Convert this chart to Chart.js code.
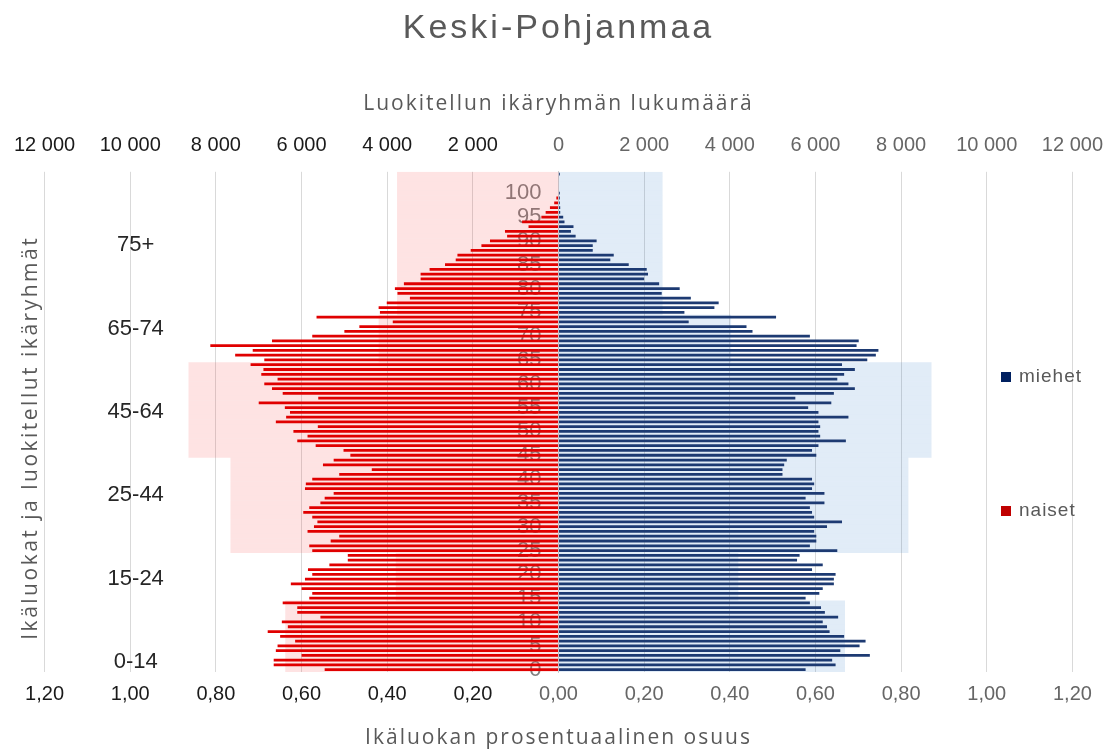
<!DOCTYPE html>
<html lang="fi">
<head>
<meta charset="utf-8">
<title>Keski-Pohjanmaa</title>
<script src="https://cdn.jsdelivr.net/npm/chart.js@4.4.1/dist/chart.umd.min.js"></script>
<style>
html, body { margin: 0; padding: 0; background: #ffffff; }
canvas { display: block; }
</style>
</head>
<body>
<canvas id="chart" width="1117" height="751"></canvas>
<script>
// ---- DATA ----
// one row per year of age, 0 ... 104
const ages = Array.from({ length: 105 }, (_, i) => String(i));
const ageTickLabels = ['0','5','10','15','20','25','30','35','40','45','50','55','60','65','70','75','80','85','90','95','100'];

// share of each one-year age class (%), women (naiset)
const women = [
  0.546, 0.665, 0.665, 0.600, 0.660, 0.656, 0.615, 0.650, 0.679, 0.632,
  0.646, 0.556, 0.610, 0.610, 0.644, 0.582, 0.575, 0.600, 0.625, 0.592,
  0.575, 0.585, 0.535, 0.492, 0.492, 0.575, 0.582, 0.532, 0.512, 0.586,
  0.571, 0.563, 0.575, 0.596, 0.582, 0.556, 0.546, 0.525, 0.592, 0.590,
  0.575, 0.512, 0.436, 0.550, 0.525, 0.486, 0.502, 0.567, 0.610, 0.586,
  0.619, 0.562, 0.660, 0.636, 0.627, 0.639, 0.700, 0.561, 0.644, 0.669,
  0.687, 0.656, 0.694, 0.689, 0.719, 0.687, 0.755, 0.714, 0.813, 0.669,
  0.575, 0.500, 0.465, 0.387, 0.565, 0.417, 0.420, 0.401, 0.347, 0.376,
  0.382, 0.361, 0.322, 0.322, 0.301, 0.265, 0.240, 0.236, 0.205, 0.180,
  0.160, 0.120, 0.125, 0.070, 0.085, 0.040, 0.030, 0.020, 0.010, 0.005,
  0, 0, 0, 0, 0
];

// share of each one-year age class (%), men (miehet)
const men = [
  0.577, 0.647, 0.639, 0.727, 0.658, 0.703, 0.717, 0.667, 0.633, 0.627,
  0.617, 0.653, 0.622, 0.613, 0.587, 0.577, 0.609, 0.617, 0.643, 0.643,
  0.647, 0.592, 0.617, 0.557, 0.563, 0.651, 0.587, 0.602, 0.602, 0.597,
  0.627, 0.662, 0.597, 0.592, 0.587, 0.621, 0.577, 0.621, 0.592, 0.597,
  0.592, 0.523, 0.523, 0.527, 0.533, 0.602, 0.592, 0.607, 0.671, 0.611,
  0.607, 0.611, 0.607, 0.677, 0.607, 0.583, 0.637, 0.553, 0.643, 0.692,
  0.677, 0.651, 0.667, 0.692, 0.662, 0.721, 0.741, 0.747, 0.696, 0.701,
  0.587, 0.453, 0.439, 0.304, 0.508, 0.294, 0.364, 0.374, 0.309, 0.241,
  0.283, 0.235, 0.200, 0.209, 0.206, 0.164, 0.121, 0.129, 0.080, 0.080,
  0.089, 0.040, 0.029, 0.035, 0.014, 0.011, 0.004, 0.004, 0.003, 0.003,
  0.003, 0, 0, 0, 0.003
];

// classified age groups (counts)
const groupLabels = ['0-14', '15-24', '25-44', '45-64', '65-74', '75+'];
const groupFirstAge = [0, 15, 25, 45, 65, 75];
const womenGroupCount = [6380, 3800, 7660, 8640, 4200, 3770];
const menGroupCount = [6690, 4200, 8170, 8710, 4030, 2430];

// ---- helpers ----
function groupOf(age) {
  let g = 0;
  for (let i = 0; i < groupFirstAge.length; i++) if (age >= groupFirstAge[i]) g = i;
  return g;
}
const womenGroupRows = ages.map((a, i) => -womenGroupCount[groupOf(i)]);
const menGroupRows = ages.map((a, i) => menGroupCount[groupOf(i)]);

function fmtCount(v) {
  return String(Math.round(Math.abs(v))).replace(/\B(?=(\d{3})+(?!\d))/g, ' ');
}
function fmtPct(v) {
  return Math.abs(v).toFixed(2).replace('.', ',');
}
const tickColor = (c) => (c.tick && c.tick.value < 0) ? '#1a1a1a' : '#666666';

const SANS = "'Liberation Sans', Arial, sans-serif";
const NARROW = "'Liberation Sans Narrow', 'Liberation Sans', Arial, sans-serif";
const TITLEFONT = "'Open Sans', 'Liberation Sans', sans-serif";
Chart.defaults.font.family = SANS;

// letter spacing for a few titles
function withSpacing(obj, method, spacing) {
  if (!obj || typeof obj[method] !== 'function' || obj['__ls_' + method]) return;
  const orig = obj[method];
  obj[method] = function (...args) {
    const ctx = this.ctx;
    const prev = ctx.letterSpacing;
    ctx.letterSpacing = spacing;
    try { return orig.apply(this, args); }
    finally { ctx.letterSpacing = prev || '0px'; }
  };
  obj['__ls_' + method] = true;
}
const spacingPlugin = {
  id: 'letterSpacing',
  beforeDraw(chart) {
    withSpacing(chart.titleBlock, 'draw', '3px');
    withSpacing(chart.scales.xTop, 'drawTitle', '2px');
    withSpacing(chart.scales.xBot, 'drawTitle', '2px');
    withSpacing(chart.scales.yGroup, 'drawTitle', '2.5px');
  }
};

// legend drawn inside the plot area on the right
const sideLegend = {
  id: 'sideLegend',
  afterDraw(chart, args, opts) {
    const ctx = chart.ctx;
    opts.items.forEach(it => {
      const ds = chart.data.datasets[it.dataset];
      ctx.save();
      ctx.fillStyle = ds.legendColor;
      ctx.fillRect(it.x, it.y - 5, 10, 10);
      ctx.fillStyle = '#595959';
      ctx.font = "19px " + SANS;
      ctx.textBaseline = 'middle';
      ctx.textAlign = 'left';
      ctx.letterSpacing = '1px';
      ctx.fillText(ds.label, it.x + 18, it.y);
      ctx.restore();
    });
  }
};

new Chart(document.getElementById('chart'), {
  type: 'bar',
  data: {
    labels: ages,
    datasets: [
      {
        label: 'naiset', data: women.map(v => -v), legendColor: '#C00000',
        backgroundColor: '#E00000', xAxisID: 'xBot', yAxisID: 'yAge',
        barPercentage: 0.58, categoryPercentage: 1, grouped: false, order: 0
      },
      {
        label: 'miehet', data: men, legendColor: '#002060',
        backgroundColor: '#1D3A72', xAxisID: 'xBot', yAxisID: 'yAge',
        barPercentage: 0.58, categoryPercentage: 1, grouped: false, order: 0
      },
      {
        label: 'naiset, ikäryhmä', data: womenGroupRows,
        backgroundColor: 'rgba(245, 60, 60, 0.14)', xAxisID: 'xTop', yAxisID: 'yAge',
        barPercentage: 1, categoryPercentage: 1, grouped: false, inflateAmount: 0, order: 2
      },
      {
        label: 'miehet, ikäryhmä', data: menGroupRows,
        backgroundColor: 'rgba(40, 120, 200, 0.14)', xAxisID: 'xTop', yAxisID: 'yAge',
        barPercentage: 1, categoryPercentage: 1, grouped: false, inflateAmount: 0, order: 2
      }
    ]
  },
  options: {
    responsive: false,
    animation: false,
    indexAxis: 'y',
    layout: { padding: { left: 14, right: 43, top: 0, bottom: 0 } },
    scales: {
      xTop: {
        type: 'linear', position: 'top', min: -12000, max: 12000,
        grid: { display: false, drawTicks: false },
        border: { display: false },
        ticks: {
          stepSize: 2000, padding: 14, maxRotation: 0, autoSkip: false,
          font: { family: SANS, size: 20 }, color: tickColor,
          callback: v => fmtCount(v)
        },
        title: {
          display: true, text: 'Luokitellun ikäryhmän lukumäärä', color: '#595959',
          font: { family: TITLEFONT, size: 21 }, padding: { top: 2, bottom: 0 }
        },
        afterFit: s => { s.height = 82; }
      },
      xBot: {
        type: 'linear', position: 'bottom', min: -1.2, max: 1.2,
        grid: { display: true, color: '#D9D9D9', lineWidth: 1, drawTicks: false },
        border: { display: false },
        ticks: {
          stepSize: 0.2, padding: 10, maxRotation: 0, autoSkip: false,
          font: { family: NARROW, size: 20 }, color: tickColor,
          callback: v => fmtPct(v)
        },
        title: {
          display: true, text: 'Ikäluokan prosentuaalinen osuus', color: '#595959',
          font: { family: TITLEFONT, size: 21 }, padding: { top: 0, bottom: 0 }
        },
        afterFit: s => { s.height = 79; }
      },
      yAge: {
        type: 'category', axis: 'y', position: 'center', reverse: true, offset: true,
        labels: ages,
        grid: { display: false, drawTicks: false },
        border: { display: true, color: '#D0D0D0' },
        ticks: {
          autoSkip: false, padding: 17, color: '#808080',
          font: { family: SANS, size: 22 },
          callback: (v, i) => ageTickLabels.includes(ages[i]) ? ages[i] : ''
        }
      },
      yGroup: {
        type: 'linear', position: 'left', min: -0.5, max: 104.5, offset: false, bounds: 'data',
        grid: { display: false, drawTicks: false, offset: false },
        border: { display: false },
        afterBuildTicks: s => { s.ticks = groupLabels.map((_, i) => ({ value: 1.6 + i * 17.5 })); },
        afterFit: s => { s.width = 28; },
        ticks: {
          autoSkip: false, mirror: true, crossAlign: 'center', padding: 63,
          color: '#262626', font: { family: SANS, size: 22 },
          callback: (v, i) => groupLabels[i]
        },
        title: {
          display: true, text: 'Ikäluokat ja luokitellut ikäryhmät    ', color: '#595959',
          font: { family: TITLEFONT, size: 21 }, padding: { top: 2, bottom: 0 }
        }
      }
    },
    plugins: {
      legend: { display: false },
      tooltip: { enabled: false },
      title: {
        display: true, fullSize: false, text: 'Keski-Pohjanmaa', color: '#595959',
        font: { family: SANS, size: 34, weight: 'normal' },
        padding: { top: 8, bottom: 41 }
      },
      sideLegend: {
        items: [
          { dataset: 1, x: 1001, y: 377 },
          { dataset: 0, x: 1001, y: 511 }
        ]
      }
    }
  },
  plugins: [spacingPlugin, sideLegend]
});
</script>
</body>
</html>
